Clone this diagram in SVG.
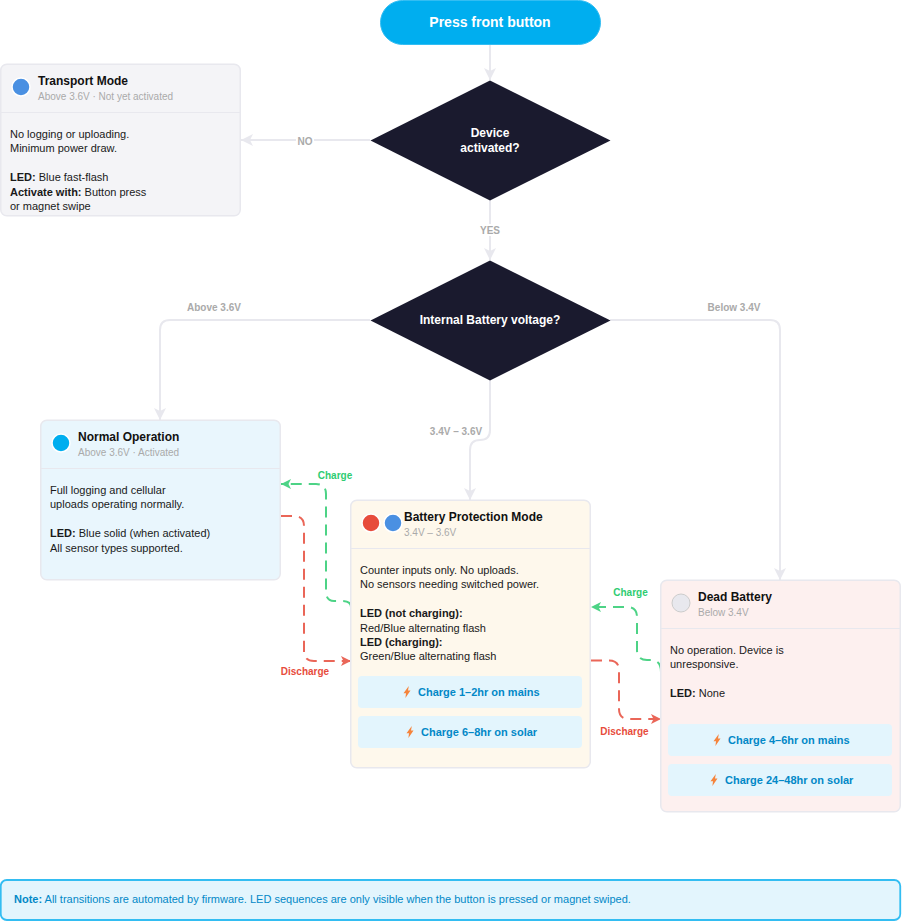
<svg xmlns="http://www.w3.org/2000/svg" width="902" height="921" viewBox="0 0 902 921">
<style>
text{font-family:"Liberation Sans",Arial,sans-serif}
.card{stroke:#e8e8ee;stroke-width:1.5}
.div{stroke:#e8e8ee;stroke-width:1;fill:none}
.t{font-size:12px;font-weight:700;fill:#111111}
.s{font-size:10px;fill:#aaaaaa}
.b{font-size:11px;fill:#1a1a1a}
.bb{font-weight:700}
.el{font-size:10px;font-weight:700;fill:#aaaaaa;text-anchor:middle}
.g{font-size:10px;font-weight:700;fill:#2ecc71;text-anchor:middle}
.r{font-size:10px;font-weight:700;fill:#e74c3c;text-anchor:middle}
.d{font-size:12px;font-weight:700;fill:#ffffff;text-anchor:middle}
.c{font-size:11px;font-weight:700;fill:#0288c7}
.cb{fill:#e3f5fd}
.bolt{fill:#f5843c}
.grey{fill:none;stroke:#e8e8ee;stroke-width:2}
.gd{fill:none;stroke:#2ecc71;stroke-width:2;stroke-dasharray:11 7;opacity:.85}
.rd{fill:none;stroke:#e74c3c;stroke-width:2;stroke-dasharray:11 7;opacity:.85}
</style>
<defs>
<marker id="ag" markerUnits="userSpaceOnUse" markerWidth="14" markerHeight="14" refX="13" refY="7" orient="auto"><path d="M1 1L13 7L1 13L4 7Z" fill="#e8e8ee"/></marker>
<marker id="agr" markerUnits="userSpaceOnUse" markerWidth="12" markerHeight="12" refX="11" refY="6" orient="auto"><path d="M1 1L11 6L1 11L3.500 6Z" fill="#2ecc71"/></marker>
<marker id="are" markerUnits="userSpaceOnUse" markerWidth="12" markerHeight="12" refX="11" refY="6" orient="auto"><path d="M1 1L11 6L1 11L3.500 6Z" fill="#e74c3c"/></marker>
<path id="bolt" d="M1.800 -6L-3.500 1.200H-1L-1.600 6L3.500 -1.400H1Z"/>
</defs>
<g id="connectors">
<path class="grey" d="M490 44V80" marker-end="url(#ag)"/>
<path class="grey" d="M370 140H241" marker-end="url(#ag)"/>
<path class="grey" d="M490 200V260" marker-end="url(#ag)"/>
<path class="grey" d="M370 320H170Q160 320 160 330V420" marker-end="url(#ag)"/>
<path class="grey" d="M490 380V430Q490 440 480 440Q470 440 470 450V500" marker-end="url(#ag)"/>
<path class="grey" d="M610 320H770Q780 320 780 330V580" marker-end="url(#ag)"/>
<path class="gd" d="M351 607Q351 601 341 601H334Q326 601 326 591V494Q326 484 316 484H281" marker-end="url(#agr)"/>
<path class="rd" d="M281 516H294Q304 516 304 526V651Q304 661 314 661H351" marker-end="url(#are)"/>
<path class="gd" d="M661 672Q661 660 651 660H647Q637 660 637 650V617Q637 607 627 607H591" marker-end="url(#agr)"/>
<path class="rd" d="M591 660.500H609Q619 660.500 619 670.500V709Q619 719 629 719H661" marker-end="url(#are)"/>
<rect x="296" y="134" width="18" height="12" fill="#ffffff"/>
<text class="el" x="305" y="144.500">NO</text>
<rect x="478" y="224" width="24" height="12" fill="#ffffff"/>
<text class="el" x="490" y="234">YES</text>
<text class="el" x="214" y="311">Above 3.6V</text>
<rect x="428" y="424" width="56" height="12" fill="#ffffff"/>
<text class="el" x="456" y="435">3.4V – 3.6V</text>
<text class="el" x="734" y="311">Below 3.4V</text>
<text class="g" x="335" y="479">Charge</text>
<text class="r" x="305" y="675">Discharge</text>
<text class="g" x="630.500" y="596">Charge</text>
<text class="r" x="624.500" y="735">Discharge</text>
</g>
<g id="start">
<rect x="380.500" y="0.500" width="220" height="44" rx="22" fill="#00aeef" stroke="#33bdf2"/>
<text x="490" y="27" font-size="14" font-weight="700" fill="#ffffff" text-anchor="middle">Press front button</text>
</g>
<g id="decision-activated">
<path d="M490 80.500L610.500 140.500L490 200.500L370.500 140.500Z" fill="#1a1a2e"/>
<text class="d" x="490" y="137">Device</text>
<text class="d" x="490" y="152">activated?</text>
</g>
<g id="decision-voltage">
<path d="M490 260.500L610.500 320.500L490 380.500L370.500 320.500Z" fill="#1a1a2e"/>
<text class="d" x="490" y="323.500">Internal Battery voltage?</text>
</g>
<g id="transport">
<rect class="card" x="0.750" y="64.250" width="239.500" height="151.500" rx="6" fill="#f4f4f7"/>
<path class="div" d="M1 112.500H240"/>
<circle cx="21" cy="87" r="9" fill="#4a90e2" stroke="#ffffff" stroke-width="1.500"/>
<text class="t" x="38" y="85">Transport Mode</text>
<text class="s" x="38" y="100">Above 3.6V · Not yet activated</text>
<text class="b" x="10" y="138">No logging or uploading.</text>
<text class="b" x="10" y="152">Minimum power draw.</text>
<text class="b" x="10" y="181"><tspan class="bb">LED:</tspan> Blue fast-flash</text>
<text class="b" x="10" y="196"><tspan class="bb">Activate with:</tspan> Button press</text>
<text class="b" x="10" y="210">or magnet swipe</text>
</g>
<g id="normal">
<rect class="card" x="40.750" y="420.250" width="239.500" height="159.500" rx="6" fill="#e9f6fd"/>
<path class="div" d="M41 468.500H280"/>
<circle cx="61" cy="443" r="9" fill="#00aeef" stroke="#ffffff" stroke-width="1.500"/>
<text class="t" x="78" y="441">Normal Operation</text>
<text class="s" x="78" y="456">Above 3.6V · Activated</text>
<text class="b" x="50" y="494">Full logging and cellular</text>
<text class="b" x="50" y="508">uploads operating normally.</text>
<text class="b" x="50" y="537"><tspan class="bb">LED:</tspan> Blue solid (when activated)</text>
<text class="b" x="50" y="552">All sensor types supported.</text>
</g>
<g id="protection">
<rect class="card" x="350.750" y="500.250" width="239.500" height="267.500" rx="6" fill="#fef8ec"/>
<path class="div" d="M351 548.500H590"/>
<circle cx="371" cy="523" r="9" fill="#e74c3c" stroke="#ffffff" stroke-width="1.500"/>
<circle cx="393" cy="523" r="9" fill="#4a90e2" stroke="#ffffff" stroke-width="1.500"/>
<text class="t" x="404" y="521">Battery Protection Mode</text>
<text class="s" x="404" y="536">3.4V – 3.6V</text>
<text class="b" x="360" y="574">Counter inputs only. No uploads.</text>
<text class="b" x="360" y="588">No sensors needing switched power.</text>
<text class="b bb" x="360" y="617">LED (not charging):</text>
<text class="b" x="360" y="632">Red/Blue alternating flash</text>
<text class="b bb" x="360" y="646">LED (charging):</text>
<text class="b" x="360" y="660">Green/Blue alternating flash</text>
<rect class="cb" x="358" y="676" width="224" height="32" rx="4"/>
<use href="#bolt" class="bolt" x="407" y="692"/>
<text class="c" x="418" y="696">Charge 1–2hr on mains</text>
<rect class="cb" x="358" y="716" width="224" height="32" rx="4"/>
<use href="#bolt" class="bolt" x="410" y="732"/>
<text class="c" x="421" y="736">Charge 6–8hr on solar</text>
</g>
<g id="dead">
<rect class="card" x="660.750" y="580.250" width="239.500" height="231.500" rx="6" fill="#fdf0ef"/>
<path class="div" d="M661 628.500H900"/>
<circle cx="681" cy="603" r="9" fill="#e8e8ee" stroke="#cccccc" stroke-width="1"/>
<text class="t" x="698" y="601">Dead Battery</text>
<text class="s" x="698" y="616">Below 3.4V</text>
<text class="b" x="670" y="654">No operation. Device is</text>
<text class="b" x="670" y="668">unresponsive.</text>
<text class="b" x="670" y="697"><tspan class="bb">LED:</tspan> None</text>
<rect class="cb" x="668" y="724" width="224" height="32" rx="4"/>
<use href="#bolt" class="bolt" x="717" y="740"/>
<text class="c" x="728" y="744">Charge 4–6hr on mains</text>
<rect class="cb" x="668" y="764" width="224" height="32" rx="4"/>
<use href="#bolt" class="bolt" x="714" y="780"/>
<text class="c" x="725" y="784">Charge 24–48hr on solar</text>
</g>
<g id="note">
<rect x="0.750" y="880" width="899.500" height="40" rx="6" fill="#e3f5fd" stroke="#33bdf2" stroke-width="1.800"/>
<text x="14" y="903" font-size="11" fill="#0288c7"><tspan font-weight="700">Note:</tspan> All transitions are automated by firmware. LED sequences are only visible when the button is pressed or magnet swiped.</text>
</g>
</svg>
